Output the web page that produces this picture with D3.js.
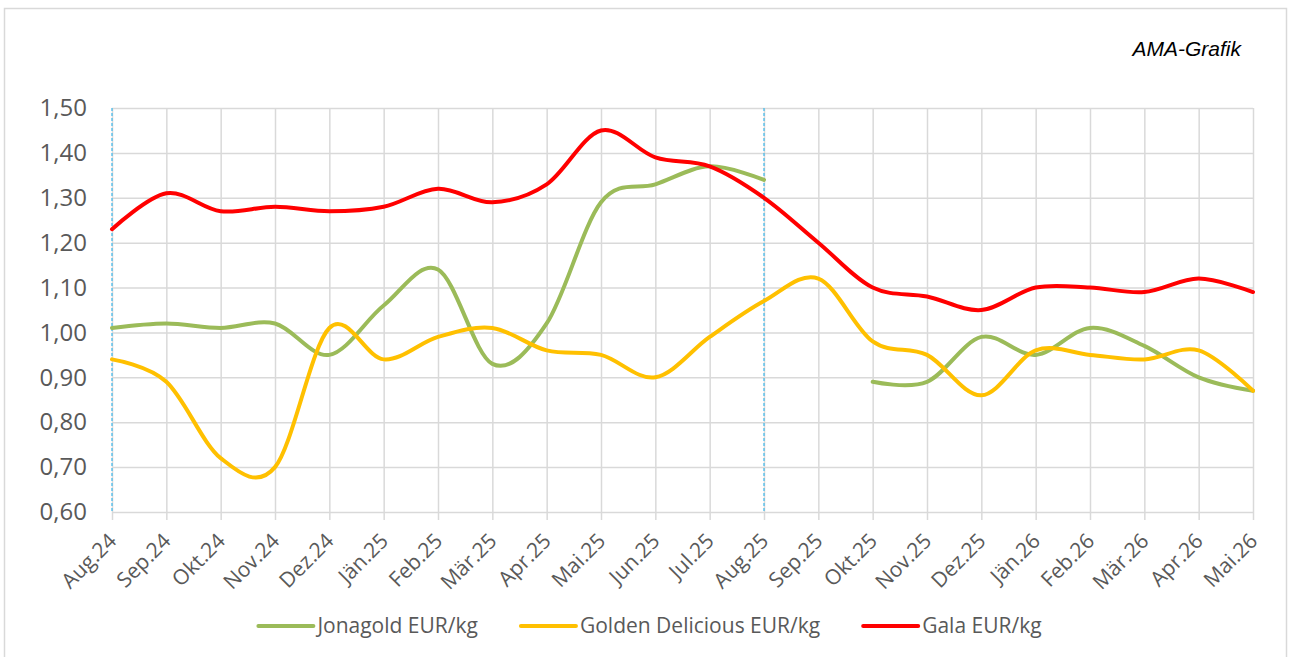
<!DOCTYPE html>
<html>
<head>
<meta charset="utf-8">
<script src="https://cdn.jsdelivr.net/npm/d3@7"></script>
<style>
  html, body { margin: 0; padding: 0; background: #fff; }
  svg { display: block; }
</style>
</head>
<body>
<div id="chart"></div>
<script>
// months on the x axis
const months = ['Aug.24', 'Sep.24', 'Okt.24', 'Nov.24', 'Dez.24', 'Jän.25', 'Feb.25', 'Mär.25',
    'Apr.25', 'Mai.25', 'Jun.25', 'Jul.25', 'Aug.25', 'Sep.25', 'Okt.25', 'Nov.25', 'Dez.25',
    'Jän.26', 'Feb.26', 'Mär.26', 'Apr.26', 'Mai.26']

// prices EUR/kg, null = no value
const jonagold = [1.01, 1.02, 1.01, 1.02, 0.95, 1.06, 1.14, 0.93, 1.02, 1.29, 1.33, 1.37, 1.34,
    null, 0.89, 0.89, 0.99, 0.95, 1.01, 0.97, 0.90, 0.87]
const golden = [0.94, 0.89, 0.72, 0.70, 1.01, 0.94, 0.99, 1.01, 0.96, 0.95, 0.90, 0.99, 1.07,
    1.12, 0.98, 0.95, 0.86, 0.96, 0.95, 0.94, 0.96, 0.87]
const gala = [1.23, 1.31, 1.27, 1.28, 1.27, 1.28, 1.32, 1.29, 1.33, 1.45, 1.39, 1.37, 1.30,
    1.20, 1.10, 1.08, 1.05, 1.10, 1.10, 1.09, 1.12, 1.09]

const seriesNames = ['Jonagold EUR/kg', 'Golden Delicious EUR/kg', 'Gala EUR/kg']

// y axis ticks
const yTicks = [0.6, 0.7, 0.8, 0.9, 1.0, 1.1, 1.2, 1.3, 1.4, 1.5]

// season markers (dashed blue lines)
const seasonStarts = ['Aug.24', 'Aug.25']

const width = 1290
const height = 657
const plot = { left: 112, right: 1253, top: 108, bottom: 512 }

const colors = ['#9BBB59', '#FFC000', '#FF0000']

const svg = d3.select('#chart').append('svg')
    .attr('width', width)
    .attr('height', height)
    .attr('font-family', "'Open Sans', 'Noto Sans', sans-serif")

// chart frame
svg.append('rect')
    .attr('x', 4.5)
    .attr('y', 8.5)
    .attr('width', 1282)
    .attr('height', 700)
    .attr('fill', 'none')
    .attr('stroke', '#d9d9d9')
    .attr('stroke-width', 1.5)

const x = d3.scalePoint()
    .domain(months)
    .range([plot.left, plot.right])
    .padding(0)

const y = d3.scaleLinear()
    .domain([0.6, 1.5])
    .range([plot.bottom, plot.top])

// horizontal grid + y labels
svg.append('g')
    .attr('transform', `translate(${plot.left},0)`)
    .call(d3.axisLeft(y)
        .tickValues(yTicks)
        .tickSize(-(plot.right - plot.left))
        .tickPadding(25)
        .tickFormat(d => d.toFixed(2).replace('.', ',')))
    .call(g => g.select('.domain').remove())
    .call(g => g.selectAll('.tick line')
        .attr('stroke', '#d9d9d9')
        .attr('stroke-width', 1.5))
    .call(g => g.selectAll('.tick text')
        .attr('fill', '#595959')
        .attr('font-size', 24)
        .attr('font-family', "'Open Sans', sans-serif"))

// vertical grid + month labels
svg.append('g')
    .attr('transform', `translate(0,${plot.bottom})`)
    .call(d3.axisBottom(x).tickSize(0))
    .call(g => g.select('.domain').remove())
    .call(g => g.selectAll('.tick line')
        .attr('stroke', '#d9d9d9')
        .attr('stroke-width', 1.5)
        .attr('y1', -(plot.bottom - plot.top))
        .attr('y2', 8))
    .call(g => g.selectAll('.tick text')
        .attr('fill', '#595959')
        .attr('font-size', 21)
        .attr('font-family', "'Open Sans', sans-serif")
        .attr('text-anchor', 'end')
        .attr('transform', 'translate(0,25) rotate(-45)')
        .attr('x', 0)
        .attr('y', 0)
        .attr('dy', '0.35em'))

// dashed season lines
svg.append('g')
  .selectAll('line')
  .data(seasonStarts)
  .join('line')
    .attr('x1', d => x(d))
    .attr('x2', d => x(d))
    .attr('y1', plot.top)
    .attr('y2', plot.bottom)
    .attr('stroke', '#3CB8EC')
    .attr('stroke-width', 1.2)
    .attr('stroke-dasharray', '3,2')

const line = d3.line()
    .defined(d => d.v !== null)
    .x(d => x(d.m))
    .y(d => y(d.v))
    .curve(d3.curveCardinal.tension(0))

const series = [jonagold, golden, gala]

svg.append('g')
    .attr('class', 'lines')
  .selectAll('path')
  .data(series)
  .join('path')
    .attr('d', vals => line(vals.map((v, i) => ({ m: months[i], v: v }))))
    .attr('fill', 'none')
    .attr('stroke', (d, i) => colors[i])
    .attr('stroke-width', 4)
    .attr('stroke-linecap', 'round')

// source note
svg.append('text')
    .attr('x', 1241)
    .attr('y', 56)
    .attr('text-anchor', 'end')
    .attr('font-family', "'Liberation Sans', Arial, sans-serif")
    .attr('font-style', 'italic')
    .attr('font-size', 21)
    .attr('fill', '#000')
    .text('AMA-Grafik')

// legend, laid out from measured text widths
const legend = svg.append('g')
    .attr('class', 'legend')
    .attr('font-size', 21)
    .attr('fill', '#595959')

const legendY = 626
const swatchW = 55
let cursor = 0
const items = seriesNames.map((name, i) => {
    const g = legend.append('g')
    g.append('line')
        .attr('x1', 0).attr('x2', swatchW)
        .attr('y1', legendY).attr('y2', legendY)
        .attr('stroke', colors[i])
        .attr('stroke-width', 4)
        .attr('stroke-linecap', 'round')
    const t = g.append('text')
        .attr('x', swatchW + 4)
        .attr('y', legendY)
        .attr('dy', '0.35em')
        .text(name)
    const w = swatchW + 4 + t.node().getComputedTextLength()
    g.attr('transform', `translate(${cursor},0)`)
    cursor += w + 43
    return w
})
const legendWidth = cursor - 43
legend.attr('transform', `translate(${650 - legendWidth / 2},0)`)
</script>
</body>
</html>
